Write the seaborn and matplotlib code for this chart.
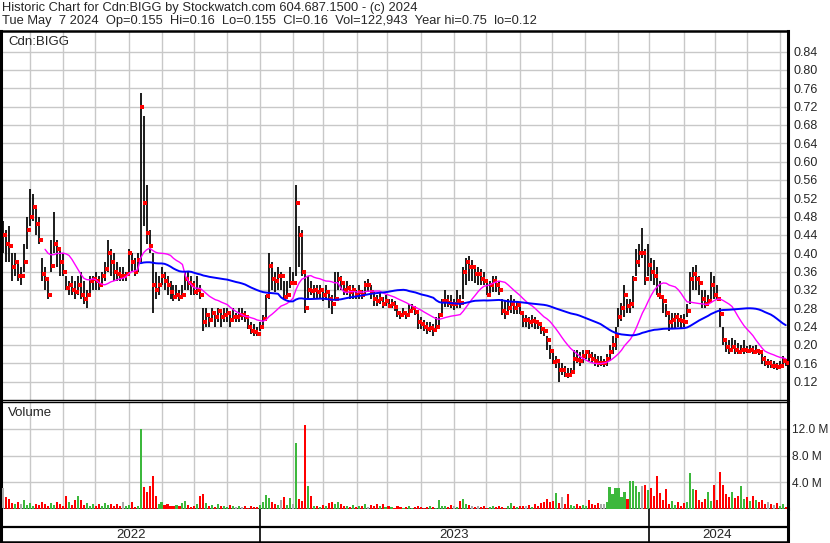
import numpy as np
import pandas as pd
import matplotlib
matplotlib.use("Agg")
import matplotlib.pyplot as plt
import seaborn as sns

# Cdn:BIGG, one bar for about every 2 trading days
high = [0.47, 0.45, 0.46, 0.40, 0.40, 0.38, 0.37, 0.42, 0.48, 0.54,
        0.53, 0.50, 0.48, 0.39, 0.37, 0.34, 0.43, 0.49, 0.43, 0.41,
        0.40, 0.35, 0.34, 0.35, 0.34, 0.35, 0.36, 0.34, 0.32, 0.35,
        0.35, 0.36, 0.35, 0.36, 0.38, 0.43, 0.41, 0.40, 0.38, 0.37,
        0.37, 0.36, 0.41, 0.40, 0.39, 0.40, 0.75, 0.70, 0.55, 0.45,
        0.40, 0.36, 0.35, 0.37, 0.36, 0.35, 0.34, 0.33, 0.33, 0.32,
        0.33, 0.36, 0.36, 0.35, 0.34, 0.35, 0.33, 0.28, 0.28, 0.27,
        0.28, 0.27, 0.28, 0.27, 0.28, 0.28, 0.27, 0.28, 0.27, 0.28,
        0.28, 0.275, 0.26, 0.25, 0.245, 0.24, 0.25, 0.265, 0.31, 0.40,
        0.38, 0.36, 0.37, 0.36, 0.34, 0.34, 0.37, 0.36, 0.55, 0.46,
        0.45, 0.36, 0.35, 0.34, 0.33, 0.33, 0.33, 0.32, 0.33, 0.32,
        0.31, 0.36, 0.36, 0.35, 0.34, 0.34, 0.33, 0.33, 0.32, 0.33,
        0.32, 0.34, 0.345, 0.33, 0.315, 0.31, 0.315, 0.305, 0.31, 0.30,
        0.30, 0.295, 0.28, 0.275, 0.28, 0.275, 0.29, 0.29, 0.285, 0.275,
        0.26, 0.255, 0.25, 0.25, 0.245, 0.26, 0.27, 0.30, 0.32, 0.31,
        0.31, 0.30, 0.32, 0.31, 0.37, 0.39, 0.395, 0.385, 0.375, 0.37,
        0.365, 0.36, 0.345, 0.34, 0.35, 0.35, 0.34, 0.30, 0.296, 0.30,
        0.31, 0.30, 0.296, 0.29, 0.266, 0.265, 0.26, 0.266, 0.26, 0.255,
        0.245, 0.24, 0.22, 0.20, 0.186, 0.175, 0.17, 0.16, 0.155, 0.15,
        0.15, 0.19, 0.19, 0.185, 0.19, 0.19, 0.19, 0.185, 0.18, 0.175,
        0.175, 0.17, 0.18, 0.20, 0.22, 0.24, 0.28, 0.292, 0.33, 0.30,
        0.30, 0.35, 0.41, 0.42, 0.455, 0.41, 0.42, 0.39, 0.385, 0.37,
        0.34, 0.31, 0.29, 0.275, 0.27, 0.27, 0.27, 0.265, 0.267, 0.29,
        0.36, 0.37, 0.375, 0.35, 0.32, 0.32, 0.31, 0.36, 0.35, 0.33,
        0.28, 0.24, 0.216, 0.21, 0.215, 0.21, 0.205, 0.20, 0.21, 0.198,
        0.20, 0.198, 0.20, 0.192, 0.184, 0.175, 0.17, 0.168, 0.165, 0.16,
        0.165, 0.175, 0.16]

low = [0.40, 0.38, 0.38, 0.34, 0.35, 0.34, 0.33, 0.36, 0.41, 0.46,
       0.47, 0.44, 0.42, 0.34, 0.32, 0.30, 0.36, 0.40, 0.37, 0.35,
       0.35, 0.32, 0.31, 0.31, 0.30, 0.31, 0.30, 0.29, 0.28, 0.31,
       0.32, 0.32, 0.32, 0.33, 0.34, 0.36, 0.35, 0.34, 0.34, 0.34,
       0.34, 0.34, 0.36, 0.36, 0.35, 0.36, 0.38, 0.46, 0.42, 0.40,
       0.27, 0.30, 0.31, 0.33, 0.32, 0.31, 0.30, 0.295, 0.30, 0.295,
       0.30, 0.32, 0.32, 0.31, 0.31, 0.31, 0.30, 0.23, 0.24, 0.24,
       0.25, 0.24, 0.25, 0.24, 0.25, 0.25, 0.24, 0.25, 0.25, 0.25,
       0.255, 0.25, 0.235, 0.225, 0.22, 0.22, 0.23, 0.24, 0.26, 0.30,
       0.32, 0.315, 0.32, 0.32, 0.30, 0.30, 0.325, 0.33, 0.35, 0.37,
       0.35, 0.27, 0.30, 0.31, 0.30, 0.30, 0.30, 0.295, 0.30, 0.28,
       0.267, 0.30, 0.32, 0.32, 0.31, 0.31, 0.30, 0.30, 0.30, 0.30,
       0.30, 0.31, 0.315, 0.30, 0.285, 0.285, 0.29, 0.28, 0.285, 0.28,
       0.28, 0.275, 0.26, 0.256, 0.26, 0.256, 0.265, 0.27, 0.265, 0.235,
       0.235, 0.23, 0.225, 0.228, 0.22, 0.23, 0.24, 0.27, 0.282, 0.282,
       0.28, 0.277, 0.28, 0.28, 0.30, 0.33, 0.34, 0.34, 0.335, 0.33,
       0.33, 0.33, 0.31, 0.31, 0.315, 0.315, 0.31, 0.265, 0.256, 0.265,
       0.27, 0.267, 0.267, 0.267, 0.24, 0.24, 0.235, 0.24, 0.235, 0.235,
       0.225, 0.22, 0.19, 0.17, 0.158, 0.15, 0.12, 0.135, 0.13, 0.128,
       0.13, 0.14, 0.16, 0.155, 0.16, 0.17, 0.165, 0.16, 0.155, 0.152,
       0.155, 0.152, 0.155, 0.165, 0.18, 0.19, 0.24, 0.253, 0.26, 0.27,
       0.27, 0.28, 0.35, 0.37, 0.39, 0.33, 0.35, 0.34, 0.33, 0.31,
       0.30, 0.27, 0.26, 0.23, 0.235, 0.235, 0.24, 0.235, 0.24, 0.26,
       0.29, 0.32, 0.32, 0.31, 0.28, 0.28, 0.285, 0.30, 0.30, 0.30,
       0.24, 0.20, 0.185, 0.18, 0.185, 0.18, 0.18, 0.182, 0.18, 0.182,
       0.182, 0.18, 0.182, 0.178, 0.158, 0.155, 0.15, 0.15, 0.148, 0.145,
       0.15, 0.155, 0.155]

close = [0.44, 0.42, 0.415, 0.37, 0.38, 0.35, 0.35, 0.38, 0.45, 0.48,
         0.50, 0.465, 0.43, 0.355, 0.345, 0.31, 0.372, 0.42, 0.41, 0.38,
         0.36, 0.325, 0.33, 0.32, 0.315, 0.33, 0.31, 0.30, 0.31, 0.34,
         0.345, 0.34, 0.33, 0.35, 0.365, 0.40, 0.38, 0.36, 0.355, 0.35,
         0.35, 0.355, 0.40, 0.38, 0.36, 0.386, 0.72, 0.51, 0.445, 0.415,
         0.33, 0.32, 0.33, 0.35, 0.34, 0.33, 0.315, 0.305, 0.31, 0.305,
         0.31, 0.343, 0.335, 0.33, 0.315, 0.32, 0.31, 0.25, 0.265, 0.255,
         0.27, 0.26, 0.275, 0.26, 0.265, 0.27, 0.255, 0.26, 0.26, 0.265,
         0.265, 0.26, 0.24, 0.23, 0.228, 0.225, 0.24, 0.256, 0.307, 0.372,
         0.345, 0.34, 0.35, 0.35, 0.305, 0.31, 0.335, 0.335, 0.51, 0.44,
         0.36, 0.28, 0.32, 0.318, 0.32, 0.315, 0.32, 0.31, 0.315, 0.30,
         0.29, 0.30, 0.345, 0.335, 0.32, 0.325, 0.315, 0.32, 0.31, 0.315,
         0.31, 0.33, 0.33, 0.315, 0.30, 0.295, 0.30, 0.29, 0.295, 0.285,
         0.29, 0.282, 0.27, 0.265, 0.27, 0.265, 0.275, 0.28, 0.272, 0.25,
         0.245, 0.24, 0.235, 0.238, 0.232, 0.24, 0.265, 0.295, 0.296, 0.292,
         0.29, 0.29, 0.296, 0.292, 0.36, 0.38, 0.37, 0.37, 0.355, 0.355,
         0.345, 0.34, 0.31, 0.33, 0.34, 0.33, 0.32, 0.275, 0.27, 0.28,
         0.29, 0.28, 0.288, 0.27, 0.255, 0.255, 0.25, 0.252, 0.25, 0.245,
         0.235, 0.23, 0.21, 0.186, 0.163, 0.165, 0.145, 0.145, 0.135, 0.134,
         0.14, 0.17, 0.168, 0.165, 0.175, 0.184, 0.175, 0.17, 0.165, 0.16,
         0.16, 0.16, 0.17, 0.185, 0.20, 0.22, 0.26, 0.28, 0.31, 0.285,
         0.29, 0.345, 0.38, 0.40, 0.40, 0.345, 0.375, 0.36, 0.35, 0.31,
         0.305, 0.295, 0.27, 0.25, 0.255, 0.26, 0.255, 0.253, 0.25, 0.275,
         0.343, 0.355, 0.345, 0.335, 0.30, 0.29, 0.295, 0.33, 0.31, 0.30,
         0.267, 0.21, 0.195, 0.19, 0.195, 0.19, 0.185, 0.188, 0.19, 0.186,
         0.188, 0.184, 0.186, 0.184, 0.17, 0.16, 0.16, 0.155, 0.155, 0.152,
         0.155, 0.165, 0.16]

# volume in millions of shares
volume_m = [3.2, 1.8, 1.5, 0.9, 0.7, 1.0, 0.8, 1.3, 0.6, 0.9,
            0.5, 0.8, 0.6, 1.0, 0.8, 0.4, 0.9, 0.6, 1.0, 0.7,
            0.5, 1.9, 1.0, 0.6, 1.4, 1.9, 1.3, 0.6, 0.9, 0.5,
            0.7, 0.4, 0.8, 0.5, 0.9, 0.6, 0.8, 0.4, 0.7, 0.5,
            1.0, 0.4, 0.6, 1.1, 0.3, 0.5, 12.0, 3.3, 2.5, 3.5,
            4.9, 2.0, 0.7, 1.0, 0.6, 0.8, 0.5, 0.4, 0.6, 0.5,
            0.9, 1.2, 0.6, 0.3, 0.5, 0.7, 1.9, 2.2, 0.9, 0.5,
            0.6, 0.3, 0.8, 0.4, 0.5, 0.3, 0.6, 0.4, 0.3, 0.5,
            0.3, 0.5, 0.2, 0.4, 0.3, 0.3, 0.6, 1.1, 2.1, 1.6,
            1.0, 0.8, 0.6, 1.3, 1.8, 0.6, 1.6, 0.8, 9.8, 1.5,
            1.2, 12.6, 3.5, 2.0, 0.5, 0.4, 0.3, 0.6, 0.5, 0.9,
            1.0, 0.7, 1.1, 0.8, 0.5, 0.4, 0.3, 0.6, 0.3, 0.4,
            0.5, 0.8, 0.3, 0.6, 0.4, 0.7, 0.4, 0.8, 0.3, 0.5,
            0.3, 0.2, 0.4, 0.3, 0.2, 0.3, 0.4, 0.2, 0.3, 0.4,
            0.3, 0.2, 0.3, 0.4, 0.3, 0.2, 1.4, 0.5, 0.4, 0.3,
            0.6, 0.4, 0.3, 1.2, 1.5, 0.8, 0.6, 0.4, 0.3, 0.5,
            0.3, 0.4, 0.2, 0.3, 0.4, 0.3, 0.5, 0.3, 0.2, 0.4,
            0.9, 0.4, 0.3, 0.5, 0.4, 0.5, 0.6, 0.3, 0.8, 0.4,
            0.9, 1.1, 1.5, 1.0, 1.2, 2.4, 0.9, 1.8, 0.7, 2.3,
            0.6, 0.5, 0.8, 0.4, 0.6, 0.5, 1.4, 0.7, 0.6, 0.9,
            0.8, 0.7, 1.0, 3.3, 2.2, 3.2, 3.1, 1.8, 2.6, 1.5,
            4.2, 4.2, 3.4, 2.5, 3.4, 3.6, 2.8, 3.2, 2.0, 5.0,
            2.4, 1.3, 3.0, 0.8, 1.2, 0.6, 1.0, 0.5, 0.9, 1.1,
            5.4, 3.0, 2.9, 1.4, 1.0, 1.5, 2.5, 1.2, 3.6, 1.3,
            5.6, 3.6, 2.2, 1.8, 2.5, 1.6, 2.0, 3.4, 1.5, 1.8,
            1.2, 2.0, 1.4, 1.0, 1.3, 0.8, 1.0, 0.7, 0.6, 0.9,
            0.5, 0.7, 0.3]

first_day, last_day = "2022-05-06", "2024-05-07"
price_ticks = [0.12, 0.16, 0.20, 0.24, 0.28, 0.32, 0.36, 0.40, 0.44,
               0.48, 0.52, 0.56, 0.60, 0.64, 0.68, 0.72, 0.76, 0.80, 0.84]
vol_ticks = [4, 8, 12]
vol_labels = ["4.0 M", "8.0 M", "12.0 M"]
fast_window, slow_window = 15, 47   # bars (about 30 and 90 trading days)

title1 = "Historic Chart for Cdn:BIGG by Stockwatch.com 604.687.1500 - (c) 2024"
title2 = ("Tue May  7 2024  Op=0.155  Hi=0.16  Lo=0.155  Cl=0.16  "
          "Vol=122,943  Year hi=0.75  lo=0.12")

sns.set_style("white")
plt.rcParams["font.family"] = ["Liberation Sans", "DejaVu Sans"]

days = pd.bdate_range(first_day, last_day)
n_days = len(days)
bar_x = np.linspace(0, n_days - 1, len(close))
month_pos = [i for i in range(1, n_days) if days[i].month != days[i - 1].month]
year_pos = [i for i in range(1, n_days) if days[i].year != days[i - 1].year]

df = pd.DataFrame({"x": bar_x, "high": high, "low": low, "close": close,
                   "vol": volume_m})
df["ma_fast"] = df["close"].rolling(fast_window).mean()
df["ma_slow"] = df["close"].rolling(slow_window).mean()
chg = df["close"].diff().fillna(0)
vol_colors = np.where(chg > 0, "#3cb83c", np.where(chg < 0, "#ff0000", "#aaaaaa"))

W, H = 830, 543
fig = plt.figure(figsize=(W / 100, H / 100), dpi=100)
ax = fig.add_axes([1 / W, (H - 400) / H, 787 / W, 369 / H])
axv = fig.add_axes([1 / W, (H - 509) / H, 787 / W, 107 / H])
axb = fig.add_axes([1 / W, 1 / H, 787 / W, 33 / H])

xlim = (-1.5, n_days + 0.5)
grid_kw = dict(color="#c8c8c8", lw=1.0)

# price panel
ax.vlines(df["x"], df["low"], df["high"], color="black", lw=1.25, zorder=3)
sns.scatterplot(x=df["x"] + 1.2, y=df["close"], marker="s", color="#ff0000",
                s=6.5, linewidth=0, ax=ax, zorder=4)
sns.lineplot(x=df["x"], y=df["ma_fast"], color="#ff00ff", lw=1.0, ax=ax, zorder=5)
sns.lineplot(x=df["x"], y=df["ma_slow"], color="#0000ff", lw=1.4, ax=ax, zorder=5)
ax.set_xlim(*xlim)
ax.set_ylim(0.08, 0.885)
ax.set_yticks(price_ticks)
ax.set_yticklabels([f"{t:.2f}" for t in price_ticks])
ax.set_xticks(month_pos)
ax.set_xticklabels([])
ax.grid(True, **grid_kw)
ax.set_axisbelow(True)
ax.yaxis.tick_right()
ax.tick_params(axis="y", length=0, pad=4, labelsize=9)
ax.tick_params(axis="x", length=0)
ax.set_xlabel("")
ax.set_ylabel("")
ax.text(7 / 787, 1 - 11 / 369, "Cdn:BIGG", transform=ax.transAxes,
        fontsize=9.5, va="center", ha="left")

# volume panel
axv.bar(df["x"], df["vol"], width=1.4, color=vol_colors, linewidth=0, zorder=3)
axv.set_xlim(*xlim)
axv.set_ylim(0, 16)
axv.set_yticks(vol_ticks)
axv.set_yticklabels(vol_labels)
axv.set_xticks(month_pos)
axv.set_xticklabels([])
axv.grid(True, **grid_kw)
axv.set_axisbelow(True)
axv.yaxis.tick_right()
axv.tick_params(axis="y", length=0, pad=3, labelsize=8.6)
axv.tick_params(axis="x", length=0)
axv.text(7 / 787, 1 - 11 / 107, "Volume", transform=axv.transAxes,
         fontsize=9.5, va="center", ha="left")

# year band
axb.set_xlim(*xlim)
axb.set_ylim(0, 33)
axb.set_xticks([])
axb.set_yticks([])
axb.axhline(15, color="black", lw=1.6)
for p in year_pos:
    axb.axvline(p, color="black", lw=1.2)
edges = [0] + year_pos + [n_days - 1]
for i, p in enumerate(year_pos + [n_days]):
    mid = (edges[i] + edges[i + 1]) / 2
    axb.text(mid, 7, str(days[min(p, n_days - 1) - 1].year), ha="center",
             va="center", fontsize=9.5)

for a, lw_top, lw_bot in [(ax, 1.8, 1.0), (axv, 1.0, 1.8), (axb, 0.0, 1.8)]:
    for s in a.spines.values():
        s.set_color("black")
    a.spines["left"].set_linewidth(2.2)
    a.spines["right"].set_linewidth(2.2)
    a.spines["top"].set_linewidth(lw_top)
    a.spines["bottom"].set_linewidth(lw_bot)

fig.text(2 / W, 1 - 8 / H, title1, fontsize=9.3, va="center", ha="left")
fig.text(2 / W, 1 - 21 / H, title2, fontsize=9.3, va="center", ha="left")

fig.savefig("out.png", dpi=100)
